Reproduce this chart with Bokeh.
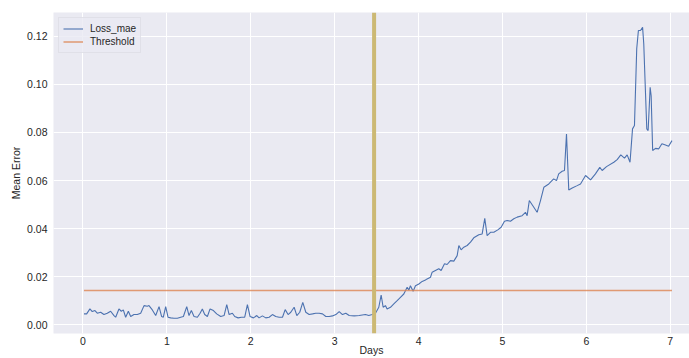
from bokeh.plotting import figure
from bokeh.models import Span, FixedTicker, Range1d
from bokeh.embed import file_html
from bokeh.resources import INLINE

# ---- data ----
days = [0.012, 0.044, 0.083, 0.111, 0.143, 0.171, 0.211, 0.250, 0.290, 0.330,
        0.370, 0.390, 0.429, 0.457, 0.481, 0.509, 0.541, 0.569, 0.608, 0.648,
        0.688, 0.728, 0.767, 0.787, 0.827, 0.867, 0.907, 0.938, 0.958, 0.986,
        1.014, 1.046, 1.085, 1.125, 1.165, 1.197, 1.237, 1.264, 1.292, 1.324,
        1.364, 1.396, 1.423, 1.451, 1.483, 1.515, 1.555, 1.594, 1.642, 1.682,
        1.714, 1.742, 1.781, 1.809, 1.849, 1.889, 1.928, 1.960, 1.992, 2.032,
        2.072, 2.099, 2.139, 2.179, 2.219, 2.258, 2.298, 2.338, 2.378, 2.410,
        2.445, 2.477, 2.517, 2.549, 2.584, 2.620, 2.656, 2.696, 2.736, 2.775,
        2.815, 2.855, 2.895, 2.934, 2.974, 3.014, 3.054, 3.093, 3.133, 3.173,
        3.233, 3.292, 3.367, 3.407, 3.447, 3.486, 3.526, 3.554, 3.578, 3.605,
        3.625, 3.665, 3.705, 3.745, 3.784, 3.824, 3.864, 3.884, 3.903, 3.935,
        3.963, 4.003, 4.043, 4.082, 4.102, 4.142, 4.162, 4.201, 4.241, 4.269,
        4.309, 4.340, 4.380, 4.420, 4.460, 4.480, 4.507, 4.539, 4.579, 4.619,
        4.658, 4.718, 4.758, 4.789, 4.817, 4.857, 4.897, 4.944, 4.984, 5.024,
        5.056, 5.095, 5.135, 5.175, 5.234, 5.274, 5.294, 5.320, 5.413, 5.453,
        5.493, 5.552, 5.610, 5.644, 5.670, 5.711, 5.739, 5.763, 5.790, 5.831,
        5.890, 5.930, 5.990, 6.050, 6.108, 6.160, 6.188, 6.240, 6.327, 6.367,
        6.410, 6.454, 6.486, 6.520, 6.550, 6.573, 6.600, 6.620, 6.645, 6.670,
        6.684, 6.700, 6.720, 6.736, 6.760, 6.772, 6.790, 6.824, 6.863, 6.900,
        6.943, 6.980, 7.020]
loss_mae = [0.00455, 0.00455, 0.00662, 0.00552, 0.00593, 0.00483, 0.00524, 0.00428, 0.00483, 0.00566,
            0.00386, 0.00317, 0.00662, 0.00566, 0.00621, 0.00317, 0.00566, 0.00345, 0.00428, 0.00428,
            0.00483, 0.00800, 0.00772, 0.00800, 0.00621, 0.00386, 0.00759, 0.00345, 0.00317, 0.00759,
            0.00317, 0.00290, 0.00276, 0.00276, 0.00317, 0.00345, 0.00759, 0.00386, 0.00593, 0.00345,
            0.00317, 0.00483, 0.00662, 0.00428, 0.00345, 0.00662, 0.00593, 0.00455, 0.00345, 0.00386,
            0.00841, 0.00428, 0.00483, 0.00345, 0.00290, 0.00317, 0.00317, 0.00841, 0.00345, 0.00290,
            0.00386, 0.00290, 0.00372, 0.00290, 0.00317, 0.00428, 0.00345, 0.00317, 0.00317, 0.00634,
            0.00428, 0.00524, 0.00731, 0.00386, 0.00524, 0.00938, 0.00524, 0.00428, 0.00455, 0.00483,
            0.00483, 0.00455, 0.00345, 0.00345, 0.00372, 0.00428, 0.00552, 0.00428, 0.00483, 0.00386,
            0.00372, 0.00386, 0.00428, 0.00386, 0.00428, 0.00483, 0.00731, 0.01241, 0.00731, 0.00800,
            0.00662, 0.00731, 0.00869, 0.01007, 0.01145, 0.01283, 0.01559, 0.01448, 0.01628, 0.01393,
            0.01628, 0.01697, 0.01807, 0.01862, 0.01910, 0.01980, 0.02190, 0.02260, 0.02330, 0.02260,
            0.02540, 0.02510, 0.02670, 0.02650, 0.02880, 0.03300, 0.03120, 0.03230, 0.03300, 0.03440,
            0.03620, 0.03750, 0.03780, 0.04430, 0.03710, 0.03850, 0.03850, 0.03950, 0.04060, 0.04310,
            0.04340, 0.04310, 0.04410, 0.04480, 0.04540, 0.04680, 0.04540, 0.05170, 0.04680, 0.05170,
            0.05720, 0.05860, 0.06070, 0.06000, 0.06280, 0.06390, 0.06420, 0.07940, 0.05610, 0.05690,
            0.05790, 0.05860, 0.06210, 0.06030, 0.06280, 0.06550, 0.06420, 0.06580, 0.06760, 0.06870,
            0.07070, 0.06930, 0.07070, 0.06760, 0.08150, 0.08290, 0.11480, 0.12240, 0.12240, 0.12370,
            0.11680, 0.10090, 0.08150, 0.08080, 0.09880, 0.09530, 0.07250, 0.07340, 0.07320, 0.07530,
            0.07480, 0.07430, 0.07660]
threshold = 0.0143
anomaly_day = 3.47
x_ticks = [0, 1, 2, 3, 4, 5, 6, 7]
y_ticks = [0.00, 0.02, 0.04, 0.06, 0.08, 0.10, 0.12]

FONT = "Liberation Sans"
TXT = "#262626"

p = figure(width=689, height=358, output_backend="svg", toolbar_location=None,
           x_range=Range1d(-0.351, 7.229), y_range=Range1d(-0.0036, 0.1299),
           min_border_left=53, min_border_right=0, min_border_top=12, min_border_bottom=25)
p.background_fill_color = "#EAEAF2"
p.border_fill_color = "white"
p.outline_line_color = None

p.line(days, loss_mae, line_color="#4C72B0", line_width=1.1, legend_label="Loss_mae")
p.line([days[0], days[-1]], [threshold, threshold], line_color="#DD8452",
       line_width=1.5, line_alpha=0.8, legend_label="Threshold")
p.add_layout(Span(location=anomaly_day, dimension="height", line_color="#CCB974", line_width=4))

for ax in (p.xaxis[0], p.yaxis[0]):
    ax.axis_line_color = None
    ax.major_tick_line_color = None
    ax.minor_tick_line_color = None
    ax.major_tick_out = 0
    ax.major_tick_in = 0
    ax.minor_tick_out = 0
    ax.minor_tick_in = 0
    ax.major_label_text_font = FONT
    ax.major_label_text_font_size = "10.5px"
    ax.major_label_text_color = TXT
    ax.axis_label_text_font = FONT
    ax.axis_label_text_font_size = "10.5px"
    ax.axis_label_text_font_style = "normal"
    ax.axis_label_text_color = TXT

p.xaxis.ticker = FixedTicker(ticks=x_ticks)
p.yaxis.ticker = FixedTicker(ticks=y_ticks)
p.yaxis.major_label_overrides = {t: f"{t:.2f}" for t in y_ticks}
p.xaxis.axis_label = "Days"
p.yaxis.axis_label = "Mean Error"
p.xaxis.major_label_standoff = 3
p.xaxis.axis_label_standoff = -4
p.yaxis.major_label_standoff = 6
p.yaxis.axis_label_standoff = 2

p.xgrid.grid_line_color = "white"
p.ygrid.grid_line_color = "white"
p.xgrid.grid_line_width = 1
p.ygrid.grid_line_width = 1

lg = p.legend[0]
lg.location = "top_left"
lg.margin = 5
lg.padding = 4
lg.spacing = 0
lg.glyph_width = 20
lg.glyph_height = 13
lg.label_height = 13
lg.label_standoff = 7
lg.label_text_font = FONT
lg.label_text_font_size = "10px"
lg.label_text_color = TXT
lg.background_fill_color = "#EAEAF2"
lg.background_fill_alpha = 0.8
lg.border_line_color = "#D6D6DE"
lg.border_line_width = 1

open("out.html", "w").write(file_html(p, INLINE))
